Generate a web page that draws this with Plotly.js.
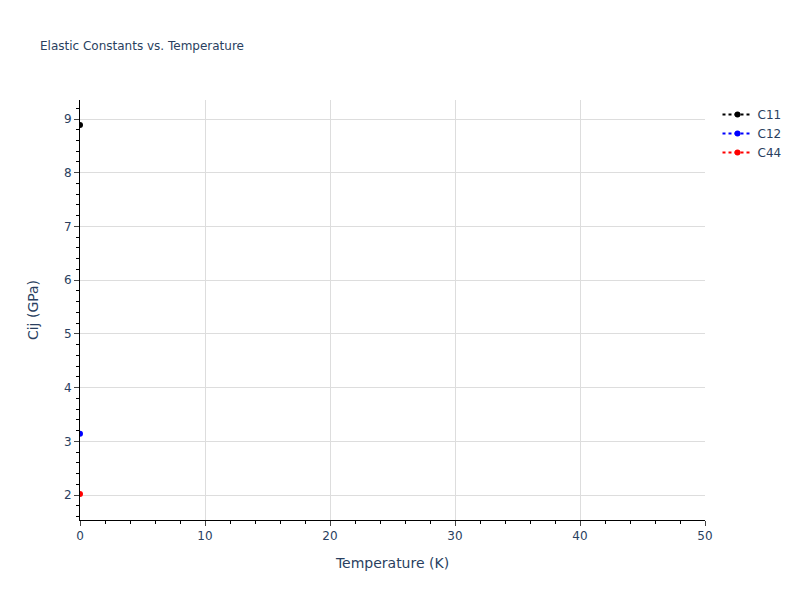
<!DOCTYPE html>
<html>
<head>
<script src="https://cdn.plot.ly/plotly-3.0.1.min.js"></script>
</head>
<body style="margin:0">
<div id="plot" style="width:800px;height:600px;"></div>
<script>
// elastic constants (one temperature only)
var temps = [0];
var c11 = [8.89];
var c12 = [3.14];
var c44 = [2.02];
var names = ["C11", "C12", "C44"];
var colours = ["black", "blue", "red"];

var series = [c11, c12, c44];
var data = [];
for (var i = 0; i < series.length; i++) {
  data.push({
    x: temps, y: series[i], name: names[i], type: "scatter", mode: "lines+markers",
    line: {color: colours[i], dash: "dot"},
    marker: {color: colours[i], size: 6}
  });
}

var layout = {
  width: 800, height: 600,
  font: {family: "DejaVu Sans, Verdana, sans-serif", color: "#2a3f5f"},
  margin: {l: 80, r: 95, t: 100, b: 80},
  title: {text: "Elastic Constants vs. Temperature", font: {size: 12}, x: 0.05},
  paper_bgcolor: "white", plot_bgcolor: "white",
  xaxis: {
    title: {text: "Temperature (K)", standoff: 15}, range: [0, 50], dtick: 10,
    showline: true, linecolor: "black", gridcolor: "#ddd", zeroline: false,
    ticks: "outside", ticklen: 5, tickcolor: "#444",
    minor: {dtick: 2, ticks: "outside", ticklen: 3, tickcolor: "black", showgrid: false}
  },
  yaxis: {
    title: {text: "Cij (GPa)", standoff: 22}, range: [1.535, 9.354], dtick: 1,
    showline: true, linecolor: "black", gridcolor: "#ddd", zeroline: false,
    ticks: "outside", ticklen: 5, tickcolor: "#444",
    minor: {dtick: 0.2, ticks: "outside", ticklen: 3, tickcolor: "black", showgrid: false}
  },
  legend: {x: 1.02, y: 1}
};

Plotly.newPlot("plot", data, layout, {displayModeBar: false});
</script>
</body>
</html>
